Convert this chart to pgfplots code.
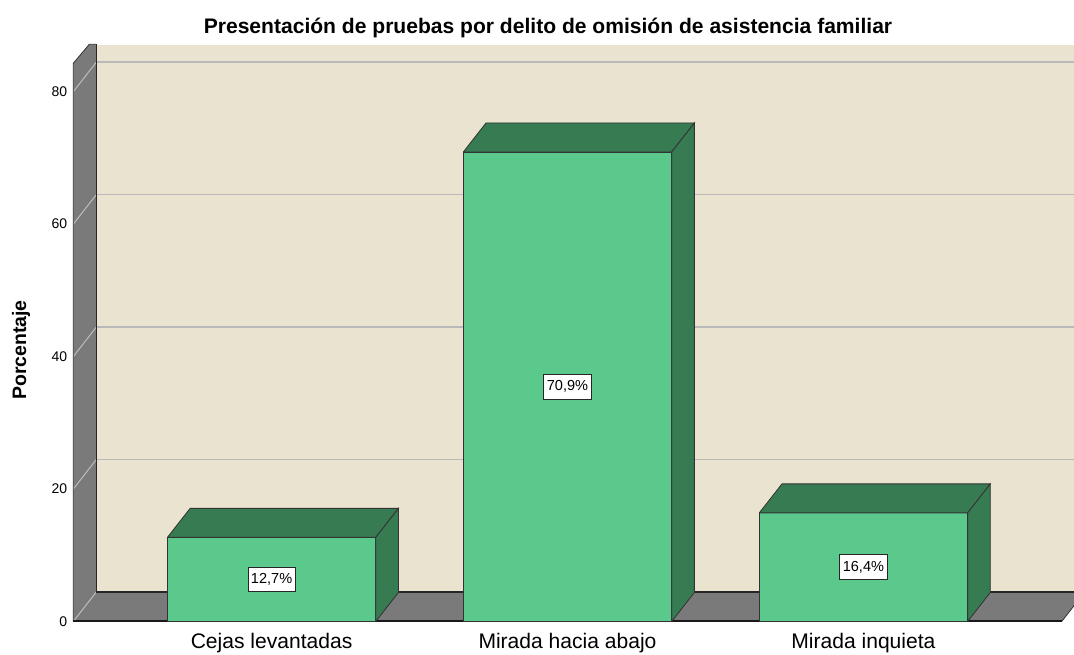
\documentclass[border=0pt]{standalone}
\usepackage{fontspec}
\setmainfont{Liberation Sans}
\usepackage{pgfplots}
\pgfplotsset{compat=1.18}
\definecolor{wall}{RGB}{234,227,207}
\definecolor{floorgray}{RGB}{122,122,122}
\definecolor{barfront}{RGB}{91,201,139}
\definecolor{bardark}{RGB}{54,123,82}
\definecolor{gridc}{RGB}{185,185,185}
\begin{document}
\begin{tikzpicture}
\path[use as bounding box] (0,0) rectangle (805.5pt,491.25pt);
% back wall
\begin{axis}[at={(72.225pt,47.25pt)}, anchor=south west, scale only axis,
  width=741.3pt, height=410.55pt, xmin=0, xmax=1, ymin=0, ymax=82.66,
  axis background/.style={fill=wall}, axis line style={draw=none},
  ytick={20,40,60,80}, yticklabels={}, xtick=\empty, major tick length=0,
  ymajorgrids, grid style={gridc, line width=1.1pt}]
\addplot[draw=none, mark=none] coordinates {(0,0) (1,1)};
\end{axis}
\begin{scope}[x=0.75pt,y=0.75pt]
\fill[floorgray] (73.3,33.5) -- (73.3,591.7) -- (89.3,610.7) -- (96.3,610.7) -- (96.3,63) -- cycle;
\fill[floorgray] (73.3,33.5) -- (1061.7,33.5) -- (1084.7,63) -- (96.3,63) -- cycle;
\foreach \v in {0,20,40,60,80} \draw[gridc, line width=0.8pt] (73.3,{33.5+\v*6.6225}) -- (96.3,{63+\v*6.6225});
\draw[black!85, line width=0.9pt] (96.3,610.7) -- (96.3,63) -- (1084.7,63);
\draw[black!80, line width=0.6pt] (73.3,33.5) -- (73.3,591.7) -- (89.3,610.7) -- (96.3,610.7);
\draw[black!80, line width=0.6pt] (1061.7,33.5) -- (1084.7,63);
\node[anchor=base, font=\fontsize{15.8pt}{19pt}\selectfont\bfseries] at (548,621) {Presentación de pruebas por delito de omisión de asistencia familiar};
\node[anchor=base, rotate=90, font=\fontsize{14.6pt}{17pt}\selectfont\bfseries] at (26,305) {Porcentaje};
\end{scope}
% front plane with bars
\begin{axis}[at={(54.975pt,25.125pt)}, anchor=south west, scale only axis,
  width=741.3pt, height=418.7pt, xmin=-0.67, xmax=2.67, ymin=0, ymax=84.3,
  no markers, clip=false,
  axis x line*=bottom, axis y line*=left,
  x axis line style={-, line width=1.5pt, black!90},
  y axis line style={draw=none},
  ytick={0,20,40,60,80}, xtick={0,1,2},
  xticklabels={Cejas levantadas, Mirada hacia abajo, Mirada inquieta},
  major tick length=0, tick style={draw=none},
  /pgf/number format/assume math mode=true,
  yticklabel style={font=\fontsize{10.5pt}{12pt}\selectfont, xshift=-1pt},
  xticklabel style={font=\fontsize{15.8pt}{19pt}\selectfont, yshift=-5pt}]
% front faces
\addplot[ybar, bar width=0.704, fill=barfront, draw=black!80, line width=0.6pt]
  coordinates {(0,12.7) (1,70.9) (2,16.4)};
% top faces
\addplot[fill=bardark, draw=black!80, line width=0.6pt]
  coordinates {(-0.352,12.7) (0.352,12.7) (0.4287,17.08) (-0.2753,17.08) (-0.352,12.7)};
\addplot[fill=bardark, draw=black!80, line width=0.6pt]
  coordinates {(0.648,70.9) (1.352,70.9) (1.4287,75.28) (0.7247,75.28) (0.648,70.9)};
\addplot[fill=bardark, draw=black!80, line width=0.6pt]
  coordinates {(1.648,16.4) (2.352,16.4) (2.4287,20.78) (1.7247,20.78) (1.648,16.4)};
% side faces
\addplot[fill=bardark, draw=black!80, line width=0.6pt]
  coordinates {(0.352,0) (0.4287,4.38) (0.4287,17.08) (0.352,12.7) (0.352,0)};
\addplot[fill=bardark, draw=black!80, line width=0.6pt]
  coordinates {(1.352,0) (1.4287,4.38) (1.4287,75.28) (1.352,70.9) (1.352,0)};
\addplot[fill=bardark, draw=black!80, line width=0.6pt]
  coordinates {(2.352,0) (2.4287,4.38) (2.4287,20.78) (2.352,16.4) (2.352,0)};
% value labels
\addplot[draw=none, nodes near coords, point meta=explicit symbolic,
  every node near coord/.append style={anchor=center, fill=white, draw=black!85,
    line width=0.6pt, font=\fontsize{10.9pt}{12pt}\selectfont,
    inner xsep=2.3pt, inner ysep=0pt, minimum height=18.5pt, text=black}]
  coordinates {(0,6.35)[12,7\%] (1,35.45)[70,9\%] (2,8.2)[16,4\%]};
\end{axis}
\end{tikzpicture}
\end{document}
